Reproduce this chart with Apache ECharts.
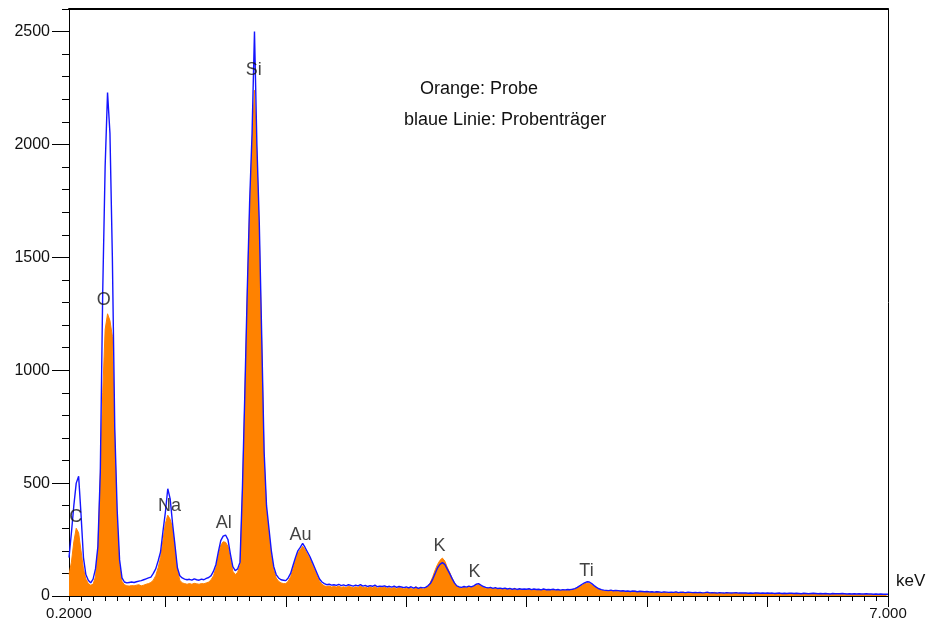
<!DOCTYPE html>
<html>
<head>
<meta charset="utf-8">
<script src="https://cdn.jsdelivr.net/npm/echarts@6.0.0/dist/echarts.min.js"></script>
<style>
html,body{margin:0;padding:0;background:#fff;}
#chart{width:928px;height:622px;}
</style>
</head>
<body>
<div id="chart"></div>
<script>
// Spectrum channels: energy of first channel and channel width (keV)
const energyStart = 0.2;
const energyStep = 0.02;

// Orange: Probe (counts per channel)
const probe = [
  95, 150, 240, 300, 280, 200, 120, 75, 55, 48,
  52, 85, 210, 540, 900, 1180, 1250, 1220, 1150, 700,
  330, 140, 65, 50, 45, 44, 46, 45, 48, 50,
  45, 48, 52, 55, 60, 70, 90, 125, 170, 245,
  320, 358, 340, 300, 205, 115, 70, 58, 55, 52,
  55, 52, 56, 54, 52, 55, 54, 58, 62, 72,
  90, 125, 180, 225, 240, 238, 220, 170, 110, 95,
  105, 135, 460, 880, 1330, 1720, 2000, 2240, 1950, 1600,
  1120, 610, 380, 280, 180, 115, 80, 65, 58, 55,
  55, 65, 85, 120, 160, 190, 205, 220, 205, 185,
  165, 140, 115, 90, 65, 52, 45, 42, 44, 40,
  42, 40, 44, 38, 41, 37, 43, 40, 36, 41,
  38, 44, 37, 40, 35, 41, 36, 42, 34, 38,
  36, 40, 34, 37, 33, 38, 32, 37, 35, 31,
  34, 38, 33, 30, 42, 31, 35, 30, 35, 42,
  60, 85, 115, 140, 158, 168, 155, 128, 105, 80,
  58, 42, 36, 34, 38, 35, 40, 37, 42, 48,
  50, 44, 38, 34, 33, 35, 31, 34, 30, 32,
  29, 32, 28, 31, 27, 34, 26, 30, 27, 28,
  27, 29, 25, 28, 26, 28, 24, 29, 25, 26,
  25, 27, 24, 26, 23, 26, 24, 26, 25, 27,
  30, 35, 41, 48, 54, 57, 56, 50, 42, 35,
  29, 25, 23, 22, 21, 24, 20, 23, 21, 20,
  20, 19, 21, 18, 20, 22, 17, 19, 18, 17,
  18, 16, 18, 15, 20, 16, 14, 17, 15, 14,
  15, 14, 17, 13, 15, 18, 13, 15, 14, 13,
  14, 13, 15, 12, 14, 15, 12, 14, 16, 11,
  13, 12, 11, 14, 12, 11, 13, 12, 11, 12,
  11, 12, 10, 11, 10, 13, 11, 10, 11, 10,
  11, 10, 11, 9, 10, 12, 9, 10, 9, 10,
  10, 9, 11, 9, 8, 10, 9, 8, 9, 11,
  9, 8, 10, 8, 9, 8, 7, 9, 8, 8,
  8, 9, 8, 7, 8, 7, 9, 7, 8, 7,
  7, 8, 7, 7, 6, 8, 6, 7, 6, 6,
  6
];

// Blue line: Probenträger (counts per channel)
const traeger = [
  170, 280, 400, 500, 530, 360, 170, 95, 70, 58,
  75, 120, 220, 550, 1350, 1900, 2230, 2050, 1500, 740,
  380, 160, 80, 62, 58, 60, 62, 60, 63, 66,
  68, 72, 76, 80, 84, 100, 120, 155, 195, 285,
  370, 475, 430, 320, 225, 125, 90, 80, 75, 72,
  74, 70, 76, 72, 70, 75, 72, 78, 82, 90,
  110, 140, 195, 245, 265, 270, 250, 185, 130, 112,
  120, 150, 480, 900, 1350, 1750, 2050, 2500, 2000, 1650,
  1150, 640, 400, 300, 200, 130, 95, 80, 72, 70,
  68, 80, 100, 135, 170, 200, 215, 233, 215, 195,
  175, 150, 125, 100, 75, 62, 55, 50, 52, 48,
  50, 47, 52, 46, 49, 45, 50, 47, 44, 48,
  45, 50, 44, 47, 42, 46, 43, 48, 41, 44,
  42, 45, 40, 43, 39, 44, 38, 42, 40, 37,
  40, 36, 41, 35, 39, 34, 38, 36, 38, 45,
  55, 75, 100, 125, 140, 148, 140, 120, 100, 78,
  58, 45, 40, 38, 42, 39, 44, 40, 45, 52,
  55, 48, 42, 38, 36, 38, 34, 37, 33, 35,
  32, 35, 31, 34, 30, 33, 29, 32, 30, 31,
  30, 32, 28, 31, 29, 30, 27, 31, 28, 29,
  28, 30, 27, 29, 26, 28, 27, 29, 28, 30,
  33, 38, 45, 52, 58, 63, 62, 55, 46, 38,
  32, 28, 26, 25, 24, 26, 23, 25, 24, 22,
  23, 21, 22, 20, 22, 21, 19, 21, 20, 19,
  20, 18, 19, 17, 19, 18, 16, 18, 17, 16,
  17, 16, 18, 15, 17, 16, 15, 17, 16, 15,
  16, 15, 16, 14, 15, 17, 14, 15, 14, 13,
  15, 14, 13, 15, 14, 13, 14, 15, 13, 14,
  13, 14, 12, 13, 12, 14, 13, 12, 13, 12,
  13, 12, 13, 11, 12, 13, 11, 12, 11, 12,
  12, 11, 12, 11, 10, 12, 11, 10, 11, 12,
  11, 10, 11, 10, 11, 10, 9, 11, 10, 10,
  10, 11, 10, 9, 10, 9, 10, 9, 10, 9,
  9, 10, 9, 9, 8, 9, 8, 9, 8, 8,
  8
];

// Element annotations (name, energy keV, counts where the text sits)
const peakNames    = ['C', 'O', 'Na', 'Al', 'Si', 'Au', 'K', 'K', 'Ti'];
const peakEnergies = [0.256, 0.488, 1.035, 1.484, 1.733, 2.123, 3.276, 3.567, 4.497];
const peakCounts   = [350, 1311, 399, 323, 2330, 270, 221, 106, 111];

// Axis ticks / labels
const xMin = 0.2, xMax = 7.0;
const xLabelValues = [0.2, 7.0];
const xLabelTexts  = ['0.2000', '7.000'];
const xMajorTicks  = [1, 2, 3, 4, 5, 6, 7];
const xMinorStep   = 0.1;
const yMin = 0, yMax = 2600;
const yLabelValues = [0, 500, 1000, 1500, 2000, 2500];
const yLabelTexts  = ['0', '500', '1000', '1500', '2000', '2500'];
const yMinorStep   = 100;
const legendLines  = ['Orange: Probe', 'blaue Linie: Probenträger'];
const xUnit = 'keV';

const xMinorTicks = [];
for (let k = 0; xMin + k * xMinorStep <= xMax + 1e-9; k++) xMinorTicks.push(+(xMin + k * xMinorStep).toFixed(2));
const yMinorTicks = [];
for (let v = yMin; v <= yMax; v += yMinorStep) yMinorTicks.push(v);

const toPairs = arr => arr.map((v, i) => [+(energyStart + i * energyStep).toFixed(3), v]);

const FONT = 'Liberation Sans, Arial, sans-serif';
const black = '#000';

const chart = echarts.init(document.getElementById('chart'), null, {renderer: 'canvas'});
chart.setOption({
  animation: false,
  backgroundColor: '#fff',
  grid: {left: 69, right: 40, top: 9, bottom: 26, containLabel: false},
  xAxis: [
    {
      type: 'value', min: xMin, max: xMax, position: 'bottom',
      axisLine: {show: true, onZero: false, lineStyle: {color: black, width: 1}},
      axisTick: {show: true, length: 5, customValues: xMinorTicks, lineStyle: {color: black}},
      axisLabel: {
        show: true, customValues: xLabelValues, margin: 10,
        fontFamily: FONT, fontSize: 15, color: '#111',
        formatter: v => { const i = xLabelValues.findIndex(x => Math.abs(x - v) < 1e-6); return i >= 0 ? xLabelTexts[i] : ''; }
      },
      splitLine: {show: false}
    },
    {
      type: 'value', min: xMin, max: xMax, position: 'bottom',
      axisLine: {show: false},
      axisTick: {show: true, length: 11, customValues: xMajorTicks, lineStyle: {color: black}},
      axisLabel: {show: false},
      splitLine: {show: false}
    },
    {
      type: 'value', min: xMin, max: xMax, position: 'top',
      axisLine: {show: true, onZero: false, lineStyle: {color: black, width: 2}},
      axisTick: {show: false}, axisLabel: {show: false}, splitLine: {show: false}
    }
  ],
  yAxis: [
    {
      type: 'value', min: yMin, max: yMax, interval: 500, position: 'left',
      axisLine: {show: true, onZero: false, lineStyle: {color: black, width: 1}},
      axisTick: {show: true, length: 17, customValues: yLabelValues, lineStyle: {color: black}},
      axisLabel: {
        show: true, customValues: yLabelValues, margin: 19, fontFamily: FONT, fontSize: 16, color: '#111',
        formatter: v => { const i = yLabelValues.indexOf(Math.round(v)); return i >= 0 ? yLabelTexts[i] : ''; }
      },
      splitLine: {show: false}
    },
    {
      type: 'value', min: yMin, max: yMax, position: 'left',
      axisLine: {show: false},
      axisTick: {show: true, length: 7, customValues: yMinorTicks, lineStyle: {color: black}},
      axisLabel: {show: false}, splitLine: {show: false}
    },
    {
      type: 'value', min: yMin, max: yMax, position: 'right',
      axisLine: {show: true, onZero: false, lineStyle: {color: black, width: 1}},
      axisTick: {show: false}, axisLabel: {show: false}, splitLine: {show: false}
    }
  ],
  series: [
    {
      name: 'Probe', type: 'line', xAxisIndex: 0, yAxisIndex: 0,
      data: toPairs(probe), symbol: 'none',
      lineStyle: {color: '#ff8200', width: 1},
      areaStyle: {color: '#ff8200', opacity: 1},
      z: 2
    },
    {
      name: 'Probenträger', type: 'line', xAxisIndex: 0, yAxisIndex: 0,
      data: toPairs(traeger), symbol: 'none',
      lineStyle: {color: '#1414ff', width: 1.4},
      z: 3
    },
    {
      name: 'labels', type: 'scatter', xAxisIndex: 0, yAxisIndex: 0,
      data: peakNames.map((n, i) => ({name: n, value: [peakEnergies[i], peakCounts[i]]})),
      symbolSize: 1, itemStyle: {color: 'rgba(0,0,0,0)'},
      label: {show: true, position: 'inside', formatter: p => p.name, fontFamily: FONT, fontSize: 18, color: '#111'},
      silent: true, z: 4
    }
  ],
  graphic: [
    {type: 'text', left: 420, top: 80, style: {text: legendLines[0], font: '18px ' + FONT, fill: '#111'}},
    {type: 'text', left: 404, top: 111, style: {text: legendLines[1], font: '18px ' + FONT, fill: '#111'}},
    {type: 'text', left: 896, top: 573, style: {text: xUnit, font: '17px ' + FONT, fill: '#111'}}
  ]
});
</script>
</body>
</html>
